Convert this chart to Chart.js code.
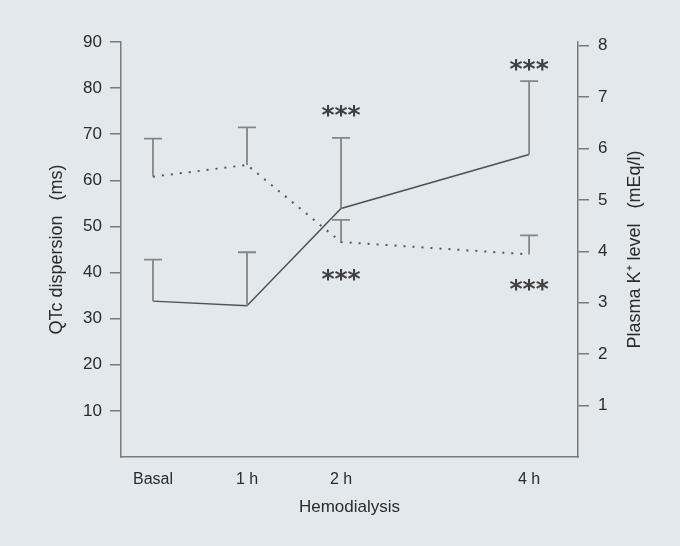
<!DOCTYPE html>
<html>
<head>
<meta charset="utf-8">
<script src="https://cdn.jsdelivr.net/npm/chart.js@4.4.0/dist/chart.umd.min.js"></script>
<style>
  html, body { margin: 0; padding: 0; background: #e2e8eb; }
  #wrap { width: 680px; height: 546px; }
</style>
</head>
<body>
<div id="wrap"><canvas id="myChart" width="680" height="546"></canvas></div>
<script>
// tiempos (horas) y etiquetas
const horas = [0, 1, 2, 4];
const etiquetas = ['Basal', '1 h', '2 h', '4 h'];

// QTc dispersion (ms): media y extremo superior del error
const qtcMedia = [33.8, 32.8, 53.9, 65.6];
const qtcError = [42.8, 44.4, 69.2, 81.5];
const qtcAsteriscos = [null, null, 75, 85];

// Potasio plasmatico (mEq/l)
const kMedia = [5.45, 5.68, 4.18, 3.94];
const kError = [6.19, 6.41, 4.61, 4.31];
const kAsteriscos = [null, null, 3.54, 3.35];

const ticksIzq = [10, 20, 30, 40, 50, 60, 70, 80, 90];
const ticksDer = [1, 2, 3, 4, 5, 6, 7, 8];

const tituloDer = 'Plasma K\u207A level   (mEq/l)';

const gris = '#7a7a7a';
const texto = '#2b2b2b';

const barrasError = {
    id: 'barrasError',
    afterDatasetsDraw(chart) {
        const ctx = chart.ctx;
        const x = chart.scales.x;
        ctx.save();
        chart.data.datasets.forEach(function (ds) {
            const y = chart.scales[ds.yAxisID];
            ctx.strokeStyle = '#858585';
            ctx.lineWidth = 1.8;
            ds.errTop.forEach(function (v, i) {
                const px = x.getPixelForValue(horas[i]);
                const py0 = y.getPixelForValue(ds.data[i].y);
                const py1 = y.getPixelForValue(v);
                ctx.beginPath();
                ctx.moveTo(px, py0);
                ctx.lineTo(px, py1);
                ctx.moveTo(px - 9, py1);
                ctx.lineTo(px + 9, py1);
                ctx.stroke();
            });
            // asteriscos de significancia
            ctx.fillStyle = '#404040';
            ctx.font = 'bold 25px "DejaVu Sans"';
            ctx.textAlign = 'center';
            ctx.textBaseline = 'alphabetic';
            ds.stars.forEach(function (v, i) {
                if (v === null) return;
                const m = ctx.measureText('***');
                const px = x.getPixelForValue(horas[i]);
                const py = y.getPixelForValue(v);
                const off = (m.actualBoundingBoxAscent - m.actualBoundingBoxDescent) / 2;
                ctx.fillText('***', px, py + off);
            });
        });

        // titulo del eje derecho, leido de abajo hacia arriba
        const y2 = chart.scales.y2;
        ctx.translate(y2.right - 45, (y2.top + y2.bottom) / 2);
        ctx.rotate(-Math.PI / 2);
        ctx.fillStyle = texto;
        ctx.font = '18px "Liberation Sans"';
        ctx.textAlign = 'center';
        ctx.textBaseline = 'middle';
        ctx.fillText(tituloDer, 0, 0);
        ctx.restore();
    }
};

function dibujarGrafico() {
    const ctx = document.getElementById('myChart').getContext('2d');
    const chart = new Chart(ctx, {
        type: 'line',
        data: {
            datasets: [{
                label: 'QTc',
                data: horas.map((h, i) => ({ x: h, y: qtcMedia[i] })),
                errTop: qtcError,
                stars: qtcAsteriscos,
                yAxisID: 'y',
                borderColor: '#505050',
                borderWidth: 1.4,
                pointRadius: 0,
                tension: 0
            }, {
                label: 'K',
                data: horas.map((h, i) => ({ x: h, y: kMedia[i] })),
                errTop: kError,
                stars: kAsteriscos,
                yAxisID: 'y2',
                borderColor: '#555555',
                borderWidth: 2,
                borderDash: [2, 7],
                pointRadius: 0,
                tension: 0
            }]
        },
        options: {
            responsive: false,
            animation: false,
            layout: { padding: { top: 42, left: 0, right: 0, bottom: 0 } },
            plugins: { legend: { display: false }, tooltip: { enabled: false } },
            scales: {
                x: {
                    type: 'linear',
                    min: -0.34,
                    max: 4.52,
                    afterBuildTicks: (s) => { s.ticks = horas.map(v => ({ value: v })); },
                    afterFit: (s) => { s.height = 89; },
                    grid: { display: false },
                    border: { display: true, color: gris, width: 1.5 },
                    ticks: {
                        padding: 5,
                        color: texto,
                        font: { family: 'Liberation Sans', size: 16 },
                        callback: (v) => etiquetas[horas.indexOf(v)]
                    },
                    title: {
                        display: true,
                        text: 'Hemodialysis',
                        color: texto,
                        font: { family: 'Liberation Sans', size: 17 },
                        padding: { top: 0, bottom: 28 }
                    }
                },
                y: {
                    position: 'left',
                    min: 0,
                    max: 90,
                    afterBuildTicks: (s) => { s.ticks = ticksIzq.map(v => ({ value: v })); },
                    afterFit: (s) => { s.width = 121; },
                    grid: { drawOnChartArea: false, drawTicks: true, tickLength: 11, color: gris, lineWidth: 1.5 },
                    border: { display: true, color: gris, width: 1.5 },
                    ticks: {
                        padding: 8,
                        color: texto,
                        font: { family: 'Liberation Sans', size: 17 }
                    },
                    title: {
                        display: true,
                        text: 'QTc dispersion   (ms)',
                        color: texto,
                        font: { family: 'Liberation Sans', size: 18 },
                        padding: { top: 46, bottom: 0 }
                    }
                },
                y2: {
                    position: 'right',
                    min: 0,
                    max: 8.07,
                    afterBuildTicks: (s) => { s.ticks = ticksDer.map(v => ({ value: v })); },
                    afterFit: (s) => { s.width = 102; },
                    grid: { drawOnChartArea: false, drawTicks: true, tickLength: 11, color: gris, lineWidth: 1.5 },
                    border: { display: true, color: gris, width: 1.5 },
                    ticks: {
                        padding: 9,
                        color: texto,
                        font: { family: 'Liberation Sans', size: 17 }
                    },
                    title: { display: false }
                }
            }
        },
        plugins: [barrasError]
    });
}

dibujarGrafico();
</script>
</body>
</html>
